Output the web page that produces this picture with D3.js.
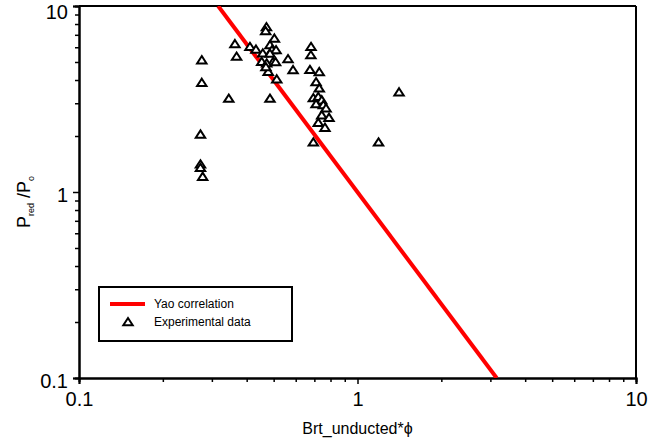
<!DOCTYPE html>
<html>
<head>
<meta charset="utf-8">
<script src="https://cdn.jsdelivr.net/npm/d3@7"></script>
<style>
  body { margin: 0; background: #fff; }
  svg { font-family: "Liberation Sans", Arial, sans-serif; }
</style>
</head>
<body>
<svg id="chart" width="670" height="441"></svg>
<script>
// experimental points
var expX = [0.276, 0.276, 0.273, 0.273, 0.273, 0.278, 0.345, 0.363, 0.368, 0.411,
            0.432, 0.471, 0.468, 0.503, 0.485, 0.493, 0.510, 0.457, 0.485, 0.453,
            0.498, 0.472, 0.478, 0.513, 0.485, 0.563, 0.587, 0.681, 0.680, 0.675,
            0.729, 0.710, 0.729, 0.694, 0.723, 0.744, 0.710, 0.754, 0.771, 0.744,
            0.790, 0.723, 0.764, 0.694, 1.19, 1.41, 0.469, 0.508];
var expY = [5.12, 3.87, 2.04, 1.41, 1.35, 1.21, 3.18, 6.25, 5.35, 6.04,
            5.84, 7.71, 7.34, 6.69, 6.17, 5.80, 5.80, 5.57, 5.55, 5.02,
            5.02, 4.92, 4.44, 4.04, 3.18, 5.19, 4.53, 6.04, 5.45, 4.54,
            4.42, 3.90, 3.61, 3.20, 3.25, 3.12, 2.97, 2.94, 2.82, 2.59,
            2.51, 2.36, 2.22, 1.85, 1.85, 3.44, 4.70, 5.00];

// Yao correlation line end points
var yaoX = [0.316, 3.16];
var yaoY = [10, 0.1];

var majorTicks = [0.1, 1, 10];
var minorTicks = [0.2, 0.3, 0.4, 0.5, 0.6, 0.7, 0.8, 0.9, 2, 3, 4, 5, 6, 7, 8, 9];

var legendLabels = ["Yao correlation", "Experimental data"];

var margin = {top: 6, right: 34, bottom: 63, left: 79};
var width = 670 - margin.left - margin.right,
    height = 441 - margin.top - margin.bottom;

var svg = d3.select("#chart");
var g = svg.append("g")
    .attr("transform", "translate(" + margin.left + "," + margin.top + ")");

var x = d3.scaleLog().domain([0.1, 10]).range([0, width]);
var y = d3.scaleLog().domain([0.1, 10]).range([height, 0]);

var fmt = function(d) { return d < 1 ? "0.1" : d3.format("d")(d); };

// minor ticks
g.append("g")
  .attr("class", "axis")
  .attr("transform", "translate(0," + height + ")")
  .call(d3.axisBottom(x).tickValues(minorTicks).tickSize(4).tickFormat(""));
g.append("g")
  .attr("class", "axis")
  .call(d3.axisLeft(y).tickValues(minorTicks).tickSize(4).tickFormat(""));

// major ticks + labels
var xAxis = g.append("g")
  .attr("class", "axis")
  .attr("transform", "translate(0," + height + ")")
  .call(d3.axisBottom(x).tickValues(majorTicks).tickSize(6).tickPadding(8).tickFormat(fmt));
var yAxis = g.append("g")
  .attr("class", "axis")
  .call(d3.axisLeft(y).tickValues(majorTicks).tickSize(6).tickPadding(5).tickFormat(fmt));

g.selectAll(".axis path.domain").attr("stroke", "#000").attr("stroke-width", 2);
g.selectAll(".axis .tick line").attr("stroke", "#000").attr("stroke-width", 1.5);
g.selectAll(".axis text")
  .attr("fill", "#000")
  .style("font-size", "20px")
  .style("font-family", "'Liberation Sans', Arial, sans-serif");
yAxis.selectAll("text").attr("dy", function(d) { return d === 10 ? "0.6em" : "0.45em"; });

// top/right frame
g.append("line").attr("x1", 0).attr("x2", width).attr("y1", 0).attr("y2", 0)
  .attr("stroke", "#000").attr("stroke-width", 2);
g.append("line").attr("x1", width).attr("x2", width).attr("y1", 0).attr("y2", height)
  .attr("stroke", "#000").attr("stroke-width", 2);

// clip for line
g.append("clipPath").attr("id", "clip")
  .append("rect").attr("width", width).attr("height", height);

var yaoData = yaoX.map(function(d, i) { return [d, yaoY[i]]; });
g.append("path")
  .datum(yaoData)
  .attr("clip-path", "url(#clip)")
  .attr("fill", "none")
  .attr("stroke", "#ff0000")
  .attr("stroke-width", 4)
  .attr("d", d3.line().x(function(d) { return x(d[0]); }).y(function(d) { return y(d[1]); }));

var tri = "M0,-4L4.7,3.3L-4.7,3.3Z";

g.selectAll(".pt")
  .data(expX)
  .enter().append("path")
  .attr("class", "pt")
  .attr("d", tri)
  .attr("transform", function(d, i) { return "translate(" + x(d) + "," + y(expY[i]) + ")"; })
  .attr("fill", "#fff")
  .attr("stroke", "#000")
  .attr("stroke-width", 2);

// axis titles
svg.append("text")
  .attr("x", margin.left + width / 2)
  .attr("y", 434)
  .attr("text-anchor", "middle")
  .style("font-size", "16px")
  .text("Brt_unducted*\u03D5");

var yt = svg.append("text")
  .attr("transform", "translate(30,202) rotate(-90)")
  .attr("text-anchor", "middle")
  .style("font-size", "18px");
yt.append("tspan").text("P");
yt.append("tspan").attr("dy", 4).style("font-size", "9px").text("red");
yt.append("tspan").attr("dy", -4).text(" /P");
yt.append("tspan").attr("dy", 4).style("font-size", "9px").text("o");

// legend
var lg = svg.append("g");
lg.append("rect")
  .attr("x", 99).attr("y", 287).attr("width", 193).attr("height", 54)
  .attr("fill", "#fff").attr("stroke", "#000").attr("stroke-width", 2);
lg.append("line")
  .attr("x1", 110).attr("x2", 145).attr("y1", 304).attr("y2", 304)
  .attr("stroke", "#ff0000").attr("stroke-width", 4);
lg.append("path")
  .attr("d", tri)
  .attr("transform", "translate(128,322)")
  .attr("fill", "#fff").attr("stroke", "#000").attr("stroke-width", 2);
lg.selectAll(".lt")
  .data(legendLabels)
  .enter().append("text")
  .attr("class", "lt")
  .attr("x", 154)
  .attr("y", function(d, i) { return 308 + i * 18; })
  .style("font-size", "12px")
  .text(function(d) { return d; });
</script>
</body>
</html>
